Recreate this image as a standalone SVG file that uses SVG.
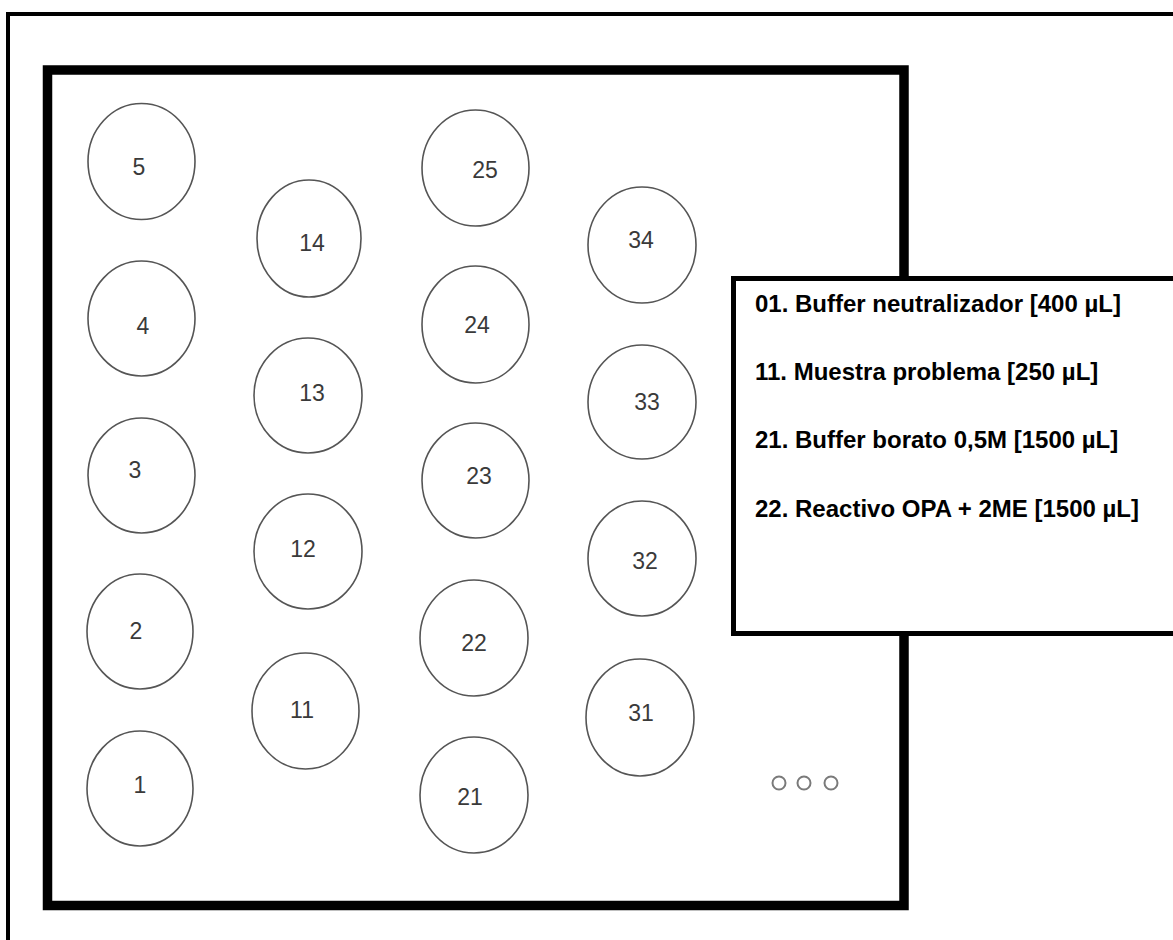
<svg xmlns="http://www.w3.org/2000/svg" width="1173" height="940" viewBox="0 0 1173 940">
<style>
.well{fill:#fff;stroke:#555;stroke-width:1.6}
.num{font-family:"Liberation Sans",Arial,sans-serif;font-size:23px;fill:#3a3a3a;text-anchor:middle}
.leg{font-family:"Liberation Sans",Arial,sans-serif;font-size:24px;font-weight:bold;fill:#000}
.dot{fill:none;stroke:#7a7a7a;stroke-width:2}
</style>
<rect width="1173" height="940" fill="#fff"/>
<rect id="outer-frame" x="8" y="14" width="1220" height="1000" fill="none" stroke="#000" stroke-width="4"/>
<rect id="rack" x="47.5" y="70" width="856.5" height="835.5" fill="#fff" stroke="#000" stroke-width="9.5"/>
<g id="connectors"></g>
<g id="w5"><ellipse class="well" cx="141.5" cy="161.5" rx="53.5" ry="58"/><text class="num" x="139" y="175">5</text></g>
<g id="w4"><ellipse class="well" cx="141.5" cy="318.5" rx="53.5" ry="57.5"/><text class="num" x="143" y="334">4</text></g>
<g id="w3"><ellipse class="well" cx="141.5" cy="475.5" rx="53.5" ry="57.5"/><text class="num" x="135" y="478">3</text></g>
<g id="w2"><ellipse class="well" cx="140" cy="631.5" rx="53" ry="57.5"/><text class="num" x="136" y="639">2</text></g>
<g id="w1"><ellipse class="well" cx="140" cy="788.5" rx="53" ry="57.5"/><text class="num" x="140" y="793">1</text></g>
<g id="w14"><ellipse class="well" cx="309" cy="238.5" rx="52" ry="58.5"/><text class="num" x="312" y="251">14</text></g>
<g id="w13"><ellipse class="well" cx="308" cy="395.5" rx="54" ry="57.5"/><text class="num" x="312" y="401">13</text></g>
<g id="w12"><ellipse class="well" cx="308" cy="551.5" rx="54" ry="57.5"/><text class="num" x="303" y="557">12</text></g>
<g id="w11"><ellipse class="well" cx="305.5" cy="711" rx="53.5" ry="58"/><text class="num" x="302" y="718">11</text></g>
<g id="w25"><ellipse class="well" cx="475.5" cy="168" rx="53.5" ry="58"/><text class="num" x="485" y="178">25</text></g>
<g id="w24"><ellipse class="well" cx="475.5" cy="324.5" rx="53.5" ry="58.5"/><text class="num" x="477" y="333">24</text></g>
<g id="w23"><ellipse class="well" cx="475.5" cy="480.5" rx="53.5" ry="57.5"/><text class="num" x="479" y="484">23</text></g>
<g id="w22"><ellipse class="well" cx="474" cy="638" rx="54" ry="58"/><text class="num" x="474" y="651">22</text></g>
<g id="w21"><ellipse class="well" cx="474" cy="795" rx="54" ry="58"/><text class="num" x="470" y="805">21</text></g>
<g id="w34"><ellipse class="well" cx="642" cy="245" rx="54" ry="58"/><text class="num" x="641" y="248">34</text></g>
<g id="w33"><ellipse class="well" cx="642" cy="402" rx="54" ry="57"/><text class="num" x="647" y="410">33</text></g>
<g id="w32"><ellipse class="well" cx="642" cy="558.5" rx="54" ry="57.5"/><text class="num" x="645" y="569">32</text></g>
<g id="w31"><ellipse class="well" cx="640" cy="717.5" rx="54" ry="58.5"/><text class="num" x="641" y="721">31</text></g>
<g id="more"><circle class="dot" cx="779" cy="783" r="6.5"/><circle class="dot" cx="804" cy="783" r="6.5"/><circle class="dot" cx="831" cy="783" r="6.5"/></g>
<g id="legend">
<rect x="733.5" y="278.5" width="500" height="355" fill="#fff" stroke="#000" stroke-width="5"/>
<text class="leg" x="755" y="312">01. Buffer neutralizador [400 µL]</text>
<text class="leg" x="755" y="380">11. Muestra problema [250 µL]</text>
<text class="leg" x="755" y="448">21. Buffer borato 0,5M [1500 µL]</text>
<text class="leg" x="755" y="517">22. Reactivo OPA + 2ME [1500 µL]</text>
</g>
</svg>
